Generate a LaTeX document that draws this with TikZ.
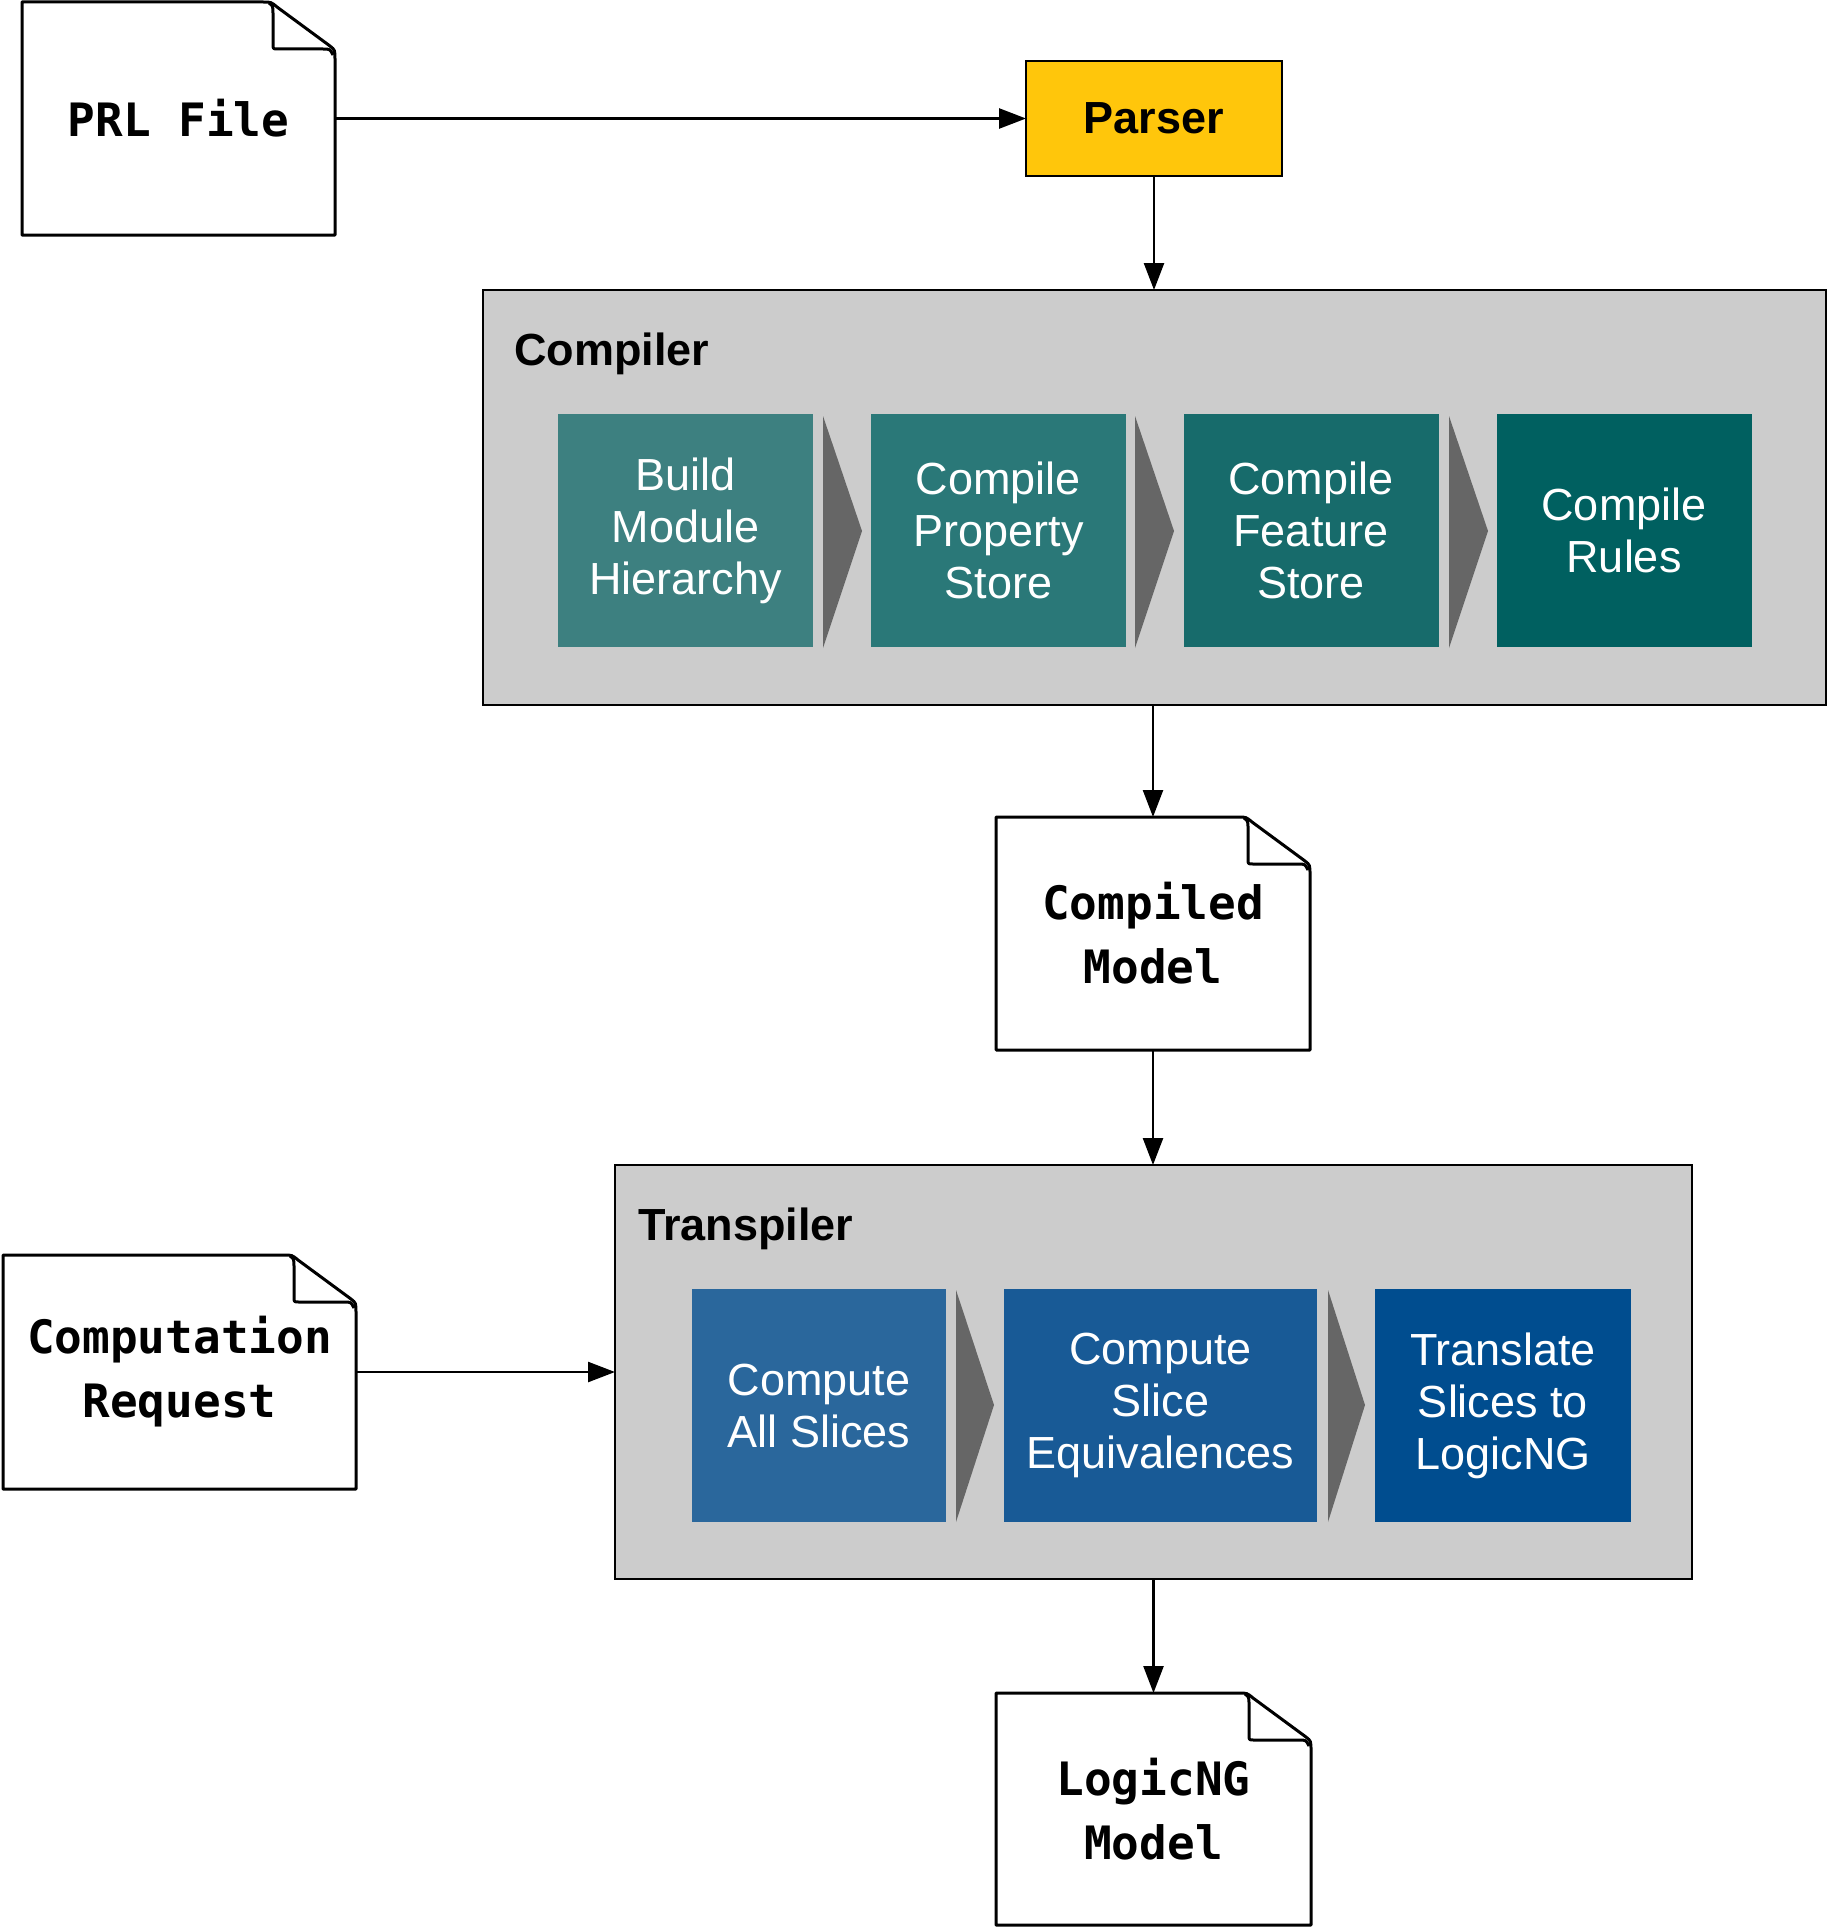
\documentclass[tikz,border=0pt]{standalone}
\usepackage{fontspec}
\setmainfont{Liberation Sans}
\newfontfamily\docfont{DejaVu Sans Mono}
\usetikzlibrary{arrows.meta}
\definecolor{parserfill}{HTML}{FFC60B}
\definecolor{contfill}{HTML}{CCCCCC}
\definecolor{chevfill}{HTML}{666666}
\definecolor{cA}{HTML}{3D8080}
\definecolor{cB}{HTML}{2A7878}
\definecolor{cC}{HTML}{176B6B}
\definecolor{cD}{HTML}{006060}
\definecolor{tA}{HTML}{2A679C}
\definecolor{tB}{HTML}{185A96}
\definecolor{tC}{HTML}{004D8F}
\newcommand\docoutline[1]{%
\draw[docline] (#1.south west) -- (#1.north west) -- ([xshift=-72pt]#1.north east)
  .. controls ([xshift=-64pt]#1.north east) .. ([shift={(-58pt,-5pt)}]#1.north east)
  -- ([shift={(-5pt,-44pt)}]#1.north east)
  .. controls ([shift={(0pt,-48pt)}]#1.north east) .. ([yshift=-58pt]#1.north east)
  -- (#1.south east) -- cycle;
\draw[docline] ([shift={(-66pt,-1pt)}]#1.north east)
  .. controls ([shift={(-62pt,-4pt)}]#1.north east) .. ([shift={(-62pt,-12pt)}]#1.north east)
  -- ([shift={(-62pt,-42pt)}]#1.north east)
  .. controls ([shift={(-62pt,-47pt)}]#1.north east) .. ([shift={(-57pt,-47pt)}]#1.north east)
  -- ([shift={(-12pt,-47pt)}]#1.north east)
  .. controls ([shift={(-5pt,-47pt)}]#1.north east) .. ([shift={(-2pt,-53pt)}]#1.north east);
}
\tikzset{
  docline/.style={line width=3pt, line join=round},
  docnode/.style={inner sep=0pt, outer sep=0pt, align=center,
    font=\docfont\bfseries\fontsize{46}{64}\selectfont},
  container/.style={draw=black, line width=2.5pt, fill=contfill, inner sep=0pt, outer sep=0pt},
  stepbox/.style={inner sep=0pt, outer sep=0pt, align=center, text=white,
    minimum width=255pt, minimum height=233pt,
    font=\fontsize{45}{52}\selectfont},
  chev/.style={fill=chevfill},
  arr/.style={-{Triangle[length=27pt,width=20pt]}, line width=2.5pt},
  grouplabel/.style={inner sep=0pt, anchor=base west, font=\bfseries\fontsize{45}{52}\selectfont}
}
\begin{document}
\begin{tikzpicture}[x=1pt,y=-1pt]
\useasboundingbox (0,0) rectangle (1827,1927);
\fill[white] (0,0) rectangle (1827,1927);

% documents
\node[docnode, minimum width=313pt, minimum height=233pt] (prl) at (178.5,118.5) {PRL File};
\node[docnode, minimum width=314pt, minimum height=233pt] (cm) at (1153,933.5) {Compiled\\Model};
\node[docnode, minimum width=315pt, minimum height=232pt] (lng) at (1153.5,1809) {LogicNG\\Model};
\node[docnode, minimum width=353pt, minimum height=234pt] (cr) at (179.5,1372) {Computation\\Request};
\docoutline{prl}
\docoutline{cm}
\docoutline{lng}
\docoutline{cr}

% parser
\node[draw=black, line width=2.5pt, fill=parserfill, inner sep=0pt, outer sep=0pt,
  minimum width=256pt, minimum height=115pt,
  font=\bfseries\fontsize{45}{52}\selectfont] (parser) at (1154,118.5) {Parser};

% compiler
\node[container, minimum width=1343pt, minimum height=415pt] (compiler) at (1154.5,497.5) {};
\node[grouplabel] (complabel) at (514,365) {Compiler};
\node[stepbox, fill=cA] (c1) at (685.5,530.5) {Build\\Module\\Hierarchy};
\node[stepbox, fill=cB] (c2) at (998.5,530.5) {Compile\\Property\\Store};
\node[stepbox, fill=cC] (c3) at (1311,530.5) {Compile\\Feature\\Store};
\node[stepbox, fill=cD] (c4) at (1624,530.5) {Compile\\Rules};
\fill[chev] (823,416) -- (862,531) -- (823,648) -- cycle;
\fill[chev] (1135,416) -- (1174,531) -- (1135,648) -- cycle;
\fill[chev] (1449,416) -- (1488,531) -- (1449,648) -- cycle;

% transpiler
\node[container, minimum width=1077pt, minimum height=414pt] (transpiler) at (1153.5,1372) {};
\node[grouplabel] (translabel) at (638,1240) {Transpiler};
\node[stepbox, fill=tA, minimum width=254pt] (t1) at (819,1405.5) {Compute\\All Slices};
\node[stepbox, fill=tB, minimum width=313pt] (t2) at (1160.5,1405.5) {Compute\\Slice\\Equivalences};
\node[stepbox, fill=tC, minimum width=256pt] (t3) at (1503,1405.5) {Translate\\Slices to\\LogicNG};
\fill[chev] (956,1290) -- (994,1405) -- (956,1522) -- cycle;
\fill[chev] (1328,1290) -- (1365,1405) -- (1328,1522) -- cycle;

% connectors
\draw[arr] (prl.east) -- (parser.west);
\draw[arr] (parser.south) -- (compiler.north -| parser.south);
\draw[arr] (compiler.south -| cm.north) -- (cm.north);
\draw[arr] (cm.south) -- (transpiler.north -| cm.south);
\draw[arr] (cr.east) -- (transpiler.west);
\draw[arr] (transpiler.south -| lng.north) -- (lng.north);
\end{tikzpicture}
\end{document}
